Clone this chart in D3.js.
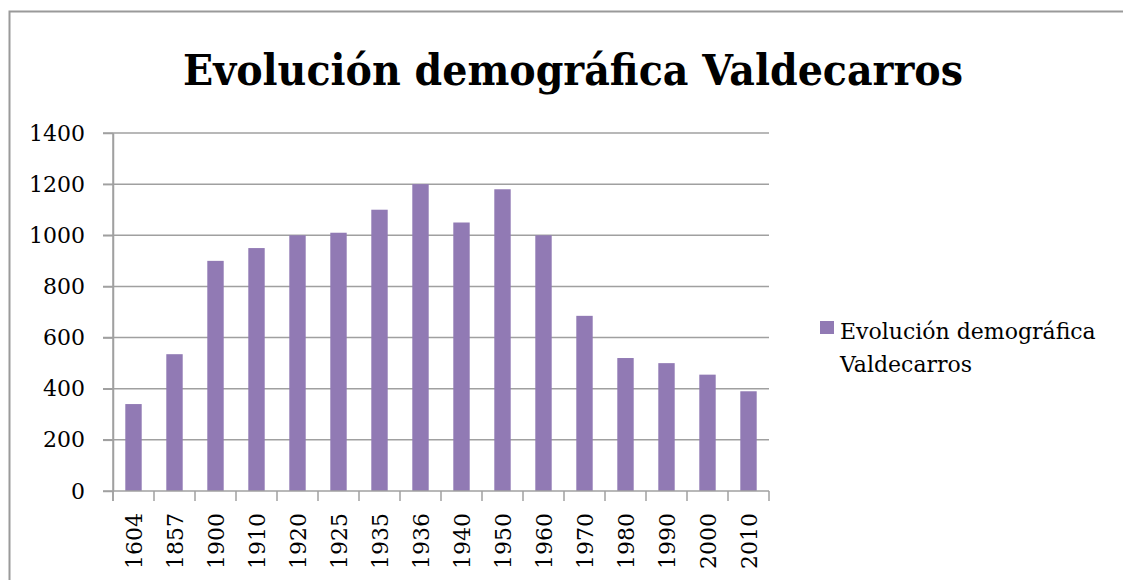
<!DOCTYPE html>
<html>
<head>
  <meta charset="utf-8">
  <title>Evolución demográfica Valdecarros</title>
  <style>
    body { margin: 0; background: #fff; }
    svg text { font-family: "DejaVu Serif", "Liberation Serif", serif; fill: #000; }
    .grid line { stroke: #a0a0a0; stroke-width: 1.5px; }
    .axis path, .axis line { stroke: #a0a0a0; stroke-width: 1.5px; }
  </style>
</head>
<body>
  <svg id="canvas"></svg>
  <script src="https://cdn.jsdelivr.net/npm/d3@7"></script>
  <script>
    const years = ["1604", "1857", "1900", "1910", "1920", "1925", "1935", "1936",
      "1940", "1950", "1960", "1970", "1980", "1990", "2000", "2010"];
    const population = [340, 535, 900, 950, 1000, 1010, 1100, 1200,
      1050, 1180, 1000, 685, 520, 500, 455, 390];
    const yTicks = [0, 200, 400, 600, 800, 1000, 1200, 1400];
    const title = "Evolución demográfica Valdecarros";
    const legendLines = ["Evolución demográfica", "Valdecarros"];

    const W = 1123, H = 580;
    const plot = { left: 113, right: 769, top: 133, bottom: 491 };
    const barColor = "#917ab4";

    const svg = d3.select("#canvas").attr("width", W).attr("height", H);

    // chart frame (cut off on right and bottom like the reference)
    svg.append("rect")
      .attr("x", 9.5).attr("y", 11.5)
      .attr("width", W + 20).attr("height", H + 20)
      .attr("fill", "#fff")
      .attr("stroke", "#9a9a9a")
      .attr("stroke-width", 2);

    svg.append("text")
      .attr("x", 573).attr("y", 85)
      .attr("text-anchor", "middle")
      .attr("font-size", 43)
      .attr("font-weight", "bold")
      .attr("textLength", 780)
      .attr("lengthAdjust", "spacingAndGlyphs")
      .text(title);

    const xb = d3.scaleBand().domain(years).range([plot.left, plot.right]);
    const y = d3.scaleLinear().domain([0, 1400]).range([plot.bottom, plot.top]);

    // gridlines
    svg.append("g").attr("class", "grid")
      .selectAll("line")
      .data(yTicks.filter(t => t > 0))
      .enter().append("line")
      .attr("x1", plot.left - 10).attr("x2", plot.right)
      .attr("y1", d => y(d)).attr("y2", d => y(d));

    // bars (gap width 150%)
    const barW = xb.bandwidth() / 2.5;
    svg.append("g").selectAll("rect")
      .data(population)
      .enter().append("rect")
      .attr("x", (_, i) => xb(years[i]) + (xb.bandwidth() - barW) / 2)
      .attr("width", barW)
      .attr("y", d => y(d))
      .attr("height", d => y(0) - y(d))
      .attr("fill", barColor);

    // y axis
    const yAxis = svg.append("g").attr("class", "axis")
      .attr("transform", "translate(" + plot.left + ",0)")
      .call(d3.axisLeft(y).tickValues(yTicks).tickFormat(d3.format("d")).tickSize(10).tickPadding(18).tickSizeOuter(0));
    yAxis.selectAll("text")
      .attr("font-size", 22)
      .style("font-family", "'DejaVu Serif', serif");

    // x axis line and ticks between categories
    const xg = svg.append("g").attr("class", "axis");
    xg.append("line")
      .attr("x1", plot.left - 10).attr("x2", plot.right)
      .attr("y1", plot.bottom).attr("y2", plot.bottom);
    xg.selectAll(".tick")
      .data(years.map(yr => xb(yr)).concat([plot.right]))
      .enter().append("line")
      .attr("x1", d => d).attr("x2", d => d)
      .attr("y1", plot.bottom).attr("y2", plot.bottom + 10);
    xg.append("line")
      .attr("x1", plot.left).attr("x2", plot.left)
      .attr("y1", plot.top).attr("y2", plot.bottom + 10);

    svg.append("g").selectAll("text")
      .data(years)
      .enter().append("text")
      .attr("transform", d => "translate(" + (xb(d) + xb.bandwidth() / 2 + 8) + "," + (plot.bottom + 22) + ")rotate(-90)")
      .attr("text-anchor", "end")
      .attr("font-size", 22)
      .text(d => d);

    // legend
    const legend = svg.append("g").attr("transform", "translate(820,321)");
    legend.append("rect").attr("width", 14).attr("height", 13).attr("fill", barColor);
    legend.selectAll("text")
      .data(legendLines)
      .enter().append("text")
      .attr("x", 20)
      .attr("y", (_, i) => 18 + i * 33)
      .attr("font-size", 22)
      .text(d => d);
  </script>
</body>
</html>
